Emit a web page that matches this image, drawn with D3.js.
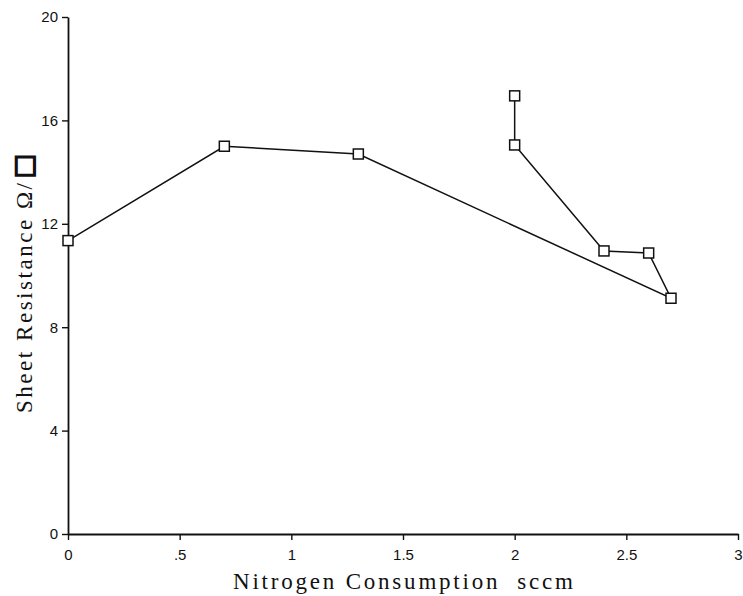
<!DOCTYPE html>
<html><head><meta charset="utf-8">
<script src="https://cdn.jsdelivr.net/npm/d3@7"></script>
<style>body{margin:0;background:#fff}</style>
</head><body>
<svg id="chart" width="743" height="596"></svg>
<script>
const xValues = [0, 0.7, 1.3, 2.7, 2.6, 2.4, 2.0, 2.0];
const yValues = [11.35, 15.0, 14.7, 9.12, 10.87, 10.95, 15.05, 16.95];
const xTicks = [0, 0.5, 1, 1.5, 2, 2.5, 3];
const xTickLabels = ["0", ".5", "1", "1.5", "2", "2.5", "3"];
const yTicks = [0, 4, 8, 12, 16, 20];
const xTitle = "Nitrogen Consumption\u00a0\u00a0sccm";
const yTitle = "Sheet Resistance \u03a9/";

const svg = d3.select("#chart");
const x = d3.scaleLinear().domain([0, 3]).range([68, 738]);
const y = d3.scaleLinear().domain([0, 20]).range([534, 17]);

const xAxis = d3.axisBottom(x).tickValues(xTicks).tickFormat((d,i)=>xTickLabels[i]).tickSize(6).tickSizeOuter(0).tickPadding(9);
const gx = svg.append("g").attr("transform", `translate(0,${y(0)})`).call(xAxis);
const yAxis = d3.axisLeft(y).tickValues(yTicks).tickSize(6).tickSizeOuter(0).tickPadding(4);
const gy = svg.append("g").attr("transform", `translate(${x(0)},0)`).call(yAxis);
[gx, gy].forEach(g => {
  g.select(".domain").attr("stroke", "#111").attr("stroke-width", 1.8);
  g.selectAll(".tick line").attr("stroke", "#111").attr("stroke-width", 1.4);
  g.selectAll(".tick text").attr("fill", "#111").style("font-family", "'Liberation Sans', Arial, sans-serif").style("font-size", "15px");
});
gx.selectAll(".tick text").filter((d,i)=>i===xTicks.length-1).attr("text-anchor","end").attr("dx", 4);

const pts = xValues.map((v, i) => [v, yValues[i]]);
svg.append("path").datum(pts)
  .attr("fill", "none").attr("stroke", "#111").attr("stroke-width", 1.5)
  .attr("d", d3.line().x(d => x(d[0])).y(d => y(d[1])));

const s = 10;
svg.append("g").selectAll("rect").data(pts).join("rect")
  .attr("x", d => x(d[0]) - s/2).attr("y", d => y(d[1]) - s/2)
  .attr("width", s).attr("height", s)
  .attr("fill", "#fff").attr("stroke", "#111").attr("stroke-width", 1.5);

svg.append("text").attr("x", 233).attr("y", 589)
  .attr("textLength", 340).attr("lengthAdjust", "spacing")
  .style("font-family", "'Liberation Serif', 'Times New Roman', serif").style("font-size", "23px").attr("fill", "#111")
  .text(xTitle);

const yt = svg.append("text").attr("transform", "translate(32,413) rotate(-90)")
  .style("font-family", "'Liberation Serif', 'Times New Roman', serif").style("font-size", "23px").attr("fill", "#111");
yt.append("tspan").attr("textLength", 230).attr("lengthAdjust", "spacing").text(yTitle);
yt.append("tspan").attr("dx", 2).style("font-family", "'DejaVu Sans', sans-serif").style("font-weight", "bold").style("font-size", "26px")
  .attr("stroke", "#111").attr("stroke-width", 1.6).text("\u25a1");
</script>
</body></html>
